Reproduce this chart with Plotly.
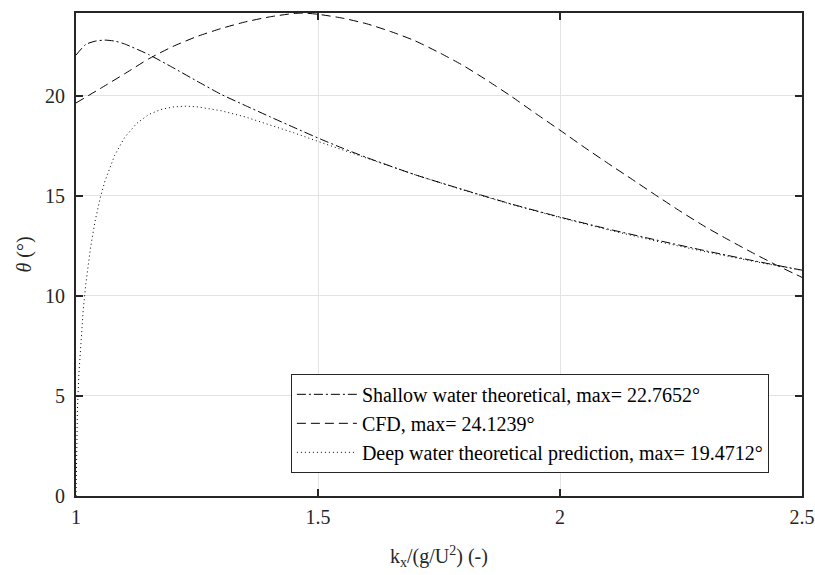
import plotly.graph_objects as go

# Shallow water theoretical (dash-dot)
shallow_x = [1.00, 1.02, 1.04, 1.06, 1.08, 1.10, 1.15, 1.20, 1.25, 1.30, 1.35, 1.40, 1.45,
             1.50, 1.55, 1.60, 1.70, 1.80, 1.90, 2.00, 2.10, 2.20, 2.30, 2.40, 2.50]
shallow_y = [22.02, 22.55, 22.72, 22.77, 22.72, 22.58, 22.05, 21.40, 20.72, 20.06, 19.50, 18.95, 18.41,
             17.88, 17.38, 16.91, 16.05, 15.30, 14.58, 13.93, 13.33, 12.78, 12.25, 11.75, 11.28]

# CFD (dashed)
cfd_x = [1.00, 1.05, 1.10, 1.15, 1.20, 1.25, 1.30, 1.35, 1.40, 1.45, 1.47, 1.50, 1.55, 1.60, 1.65,
         1.70, 1.75, 1.80, 1.85, 1.90, 1.95, 2.00, 2.05, 2.10, 2.15, 2.20, 2.25, 2.30, 2.35, 2.40,
         2.45, 2.50]
cfd_y = [19.63, 20.35, 21.08, 21.83, 22.45, 22.95, 23.35, 23.68, 23.93, 24.10, 24.12, 24.06, 23.87,
         23.59, 23.20, 22.74, 22.15, 21.50, 20.75, 19.95, 19.10, 18.27, 17.42, 16.60, 15.80, 14.99,
         14.20, 13.45, 12.77, 12.12, 11.50, 10.92]

# Deep water theoretical prediction (dotted)
deep_x = [1.000, 1.001, 1.003, 1.006, 1.010, 1.015, 1.020, 1.030, 1.040, 1.050, 1.060, 1.080, 1.100,
          1.125, 1.150, 1.175, 1.200, 1.225, 1.250, 1.300, 1.350, 1.400, 1.450, 1.500, 1.550, 1.600,
          1.700, 1.800, 1.900, 2.000, 2.100, 2.200, 2.300, 2.400, 2.500]
deep_y = [0.00, 2.55, 4.38, 6.11, 7.76, 9.31, 10.53, 12.41, 13.80, 14.88, 15.74, 17.02, 17.89,
          18.60, 19.05, 19.30, 19.43, 19.47, 19.44, 19.24, 18.93, 18.55, 18.14, 17.71, 17.29, 16.87,
          16.05, 15.28, 14.56, 13.90, 13.29, 12.72, 12.20, 11.72, 11.27]

names = ["Shallow water theoretical, max= 22.7652°",
         "CFD, max= 24.1239°",
         "Deep water theoretical prediction, max= 19.4712°"]

x_ticks = [1, 1.5, 2, 2.5]
x_ticklabels = ["1", "1.5", "2", "2.5"]
y_ticks = [0, 5, 10, 15, 20]

FONT = "Liberation Serif"
AX = "#262626"

fig = go.Figure()
fig.add_trace(go.Scatter(x=shallow_x, y=shallow_y, mode="lines", name=names[0],
                         line=dict(color="black", width=1, dash="9px,3px,2px,3px", shape="spline", smoothing=0.6)))
fig.add_trace(go.Scatter(x=cfd_x, y=cfd_y, mode="lines", name=names[1],
                         line=dict(color="black", width=1, dash="9px,5px", shape="spline", smoothing=0.6)))
fig.add_trace(go.Scatter(x=deep_x, y=deep_y, mode="lines", name=names[2],
                         line=dict(color="black", width=1, dash="1px,3px")))

axis_common = dict(showline=True, linecolor=AX, linewidth=2, mirror="ticks",
                   ticks="inside", ticklen=7, tickwidth=2, tickcolor=AX,
                   showgrid=True, gridcolor="#e3e3e3", gridwidth=1, zeroline=False,
                   tickfont=dict(family=FONT, size=20, color=AX))

fig.update_xaxes(range=[1, 2.5], tickvals=x_ticks, ticktext=x_ticklabels, ticklabelstandoff=2,
                 title=dict(text="k<sub>x</sub>/(g/U<sup>2</sup>) (-)", font=dict(family=FONT, size=20, color=AX),
                            standoff=22),
                 **axis_common)
fig.update_yaxes(range=[0, 24.1239], tickvals=y_ticks, ticklabelstandoff=5,
                 title=dict(text="<i>θ</i> (°)", font=dict(family=FONT, size=20, color=AX), standoff=8),
                 **axis_common)

fig.update_layout(
    width=815, height=575,
    margin=dict(l=76, r=13, t=13, b=79, autoexpand=False),
    plot_bgcolor="white", paper_bgcolor="white",
    font=dict(family=FONT, size=20, color=AX),
    legend=dict(x=0.296, y=0.048, xanchor="left", yanchor="bottom",
                bgcolor="white", bordercolor=AX, borderwidth=1,
                font=dict(family=FONT, size=20, color="black"),
                itemwidth=60, tracegroupgap=0),
    showlegend=True,
)

fig.write_html("out.html")
